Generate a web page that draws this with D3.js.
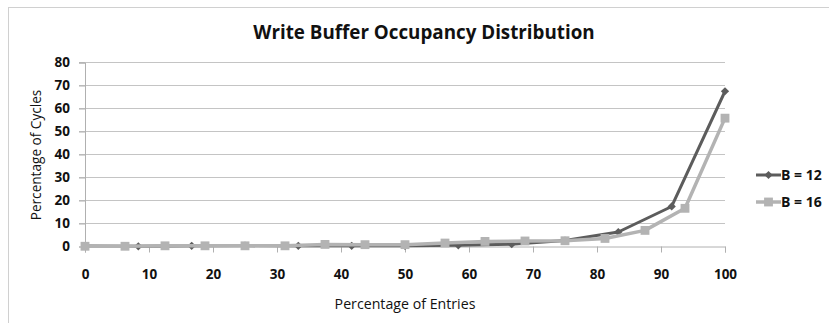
<!DOCTYPE html>
<html>
<head>
<meta charset="utf-8">
<script src="https://cdn.jsdelivr.net/npm/d3@7"></script>
<style>
  body { margin: 0; background: #fff; }
  svg { display: block; }
</style>
</head>
<body>
<svg id="chart"></svg>
<script>
// data
const xB12 = [0, 8.33, 16.67, 25, 33.33, 41.67, 50, 58.33, 66.67, 75, 83.33, 91.67, 100];
const yB12 = [0.2, 0.1, 0.3, 0.4, 0.3, 0.3, 0.3, 0.5, 1.0, 2.6, 6.3, 17.4, 67.5];
const xB16 = [0, 6.25, 12.5, 18.75, 25, 31.25, 37.5, 43.75, 50, 56.25, 62.5, 68.75, 75, 81.25, 87.5, 93.75, 100];
const yB16 = [0.1, 0.1, 0.3, 0.3, 0.3, 0.3, 0.9, 0.8, 0.8, 1.5, 2.2, 2.4, 2.5, 3.5, 7.0, 16.6, 55.8];
const seriesNames = ["B = 12", "B = 16"];
const xTicks = [0, 10, 20, 30, 40, 50, 60, 70, 80, 90, 100];
const yTicks = [0, 10, 20, 30, 40, 50, 60, 70, 80];

const W = 829, H = 323;
const margin = { top: 62.5, right: 104, bottom: 76.5, left: 85 },
  width = W - margin.left - margin.right,
  height = H - margin.top - margin.bottom;

const root = d3.select("#chart").attr("width", W).attr("height", H);

// chart area border
root.append("rect")
  .attr("x", 8.5).attr("y", 7.5)
  .attr("width", W).attr("height", H)
  .attr("fill", "none")
  .attr("stroke", "#d0d0d0");

const svg = root.append("g")
  .attr("transform", `translate(${margin.left},${margin.top})`);

const x = d3.scaleLinear().domain([0, 100]).range([0, width]);
const y = d3.scaleLinear().domain([0, 80]).range([height, 0]);

// gridlines
svg.append("g")
  .selectAll("line")
  .data(yTicks.filter((d) => d > 0))
  .join("line")
  .attr("x1", -6)
  .attr("x2", width)
  .attr("y1", (d) => y(d))
  .attr("y2", (d) => y(d))
  .attr("stroke", "#c4c4c4")
  .attr("stroke-width", 1);

// y axis
const yAxis = svg.append("g")
  .call(d3.axisLeft(y).tickValues(yTicks).tickSize(6).tickPadding(9));
yAxis.select(".domain").attr("stroke", "#b0b0b0");
yAxis.selectAll(".tick line").attr("stroke", "#b0b0b0");
yAxis.selectAll("text")
  .attr("font-family", "'Open Sans', sans-serif")
  .attr("font-weight", "bold")
  .attr("font-size", "13.5px")
  .attr("fill", "#111");

// x axis
const xAxis = svg.append("g")
  .attr("transform", `translate(0,${height})`)
  .call(d3.axisBottom(x).tickValues(xTicks).tickSize(6).tickPadding(17));
xAxis.select(".domain").attr("stroke", "#b0b0b0");
xAxis.selectAll(".tick line").attr("stroke", "#b0b0b0");
xAxis.selectAll("text")
  .attr("font-family", "'Open Sans', sans-serif")
  .attr("font-weight", "bold")
  .attr("font-size", "13.5px")
  .attr("fill", "#111");

// title
root.append("text")
  .attr("x", 424)
  .attr("y", 39)
  .attr("text-anchor", "middle")
  .attr("font-family", "'Open Sans', sans-serif")
  .attr("font-weight", "bold")
  .attr("font-size", "18.8px")
  .attr("fill", "#111")
  .text("Write Buffer Occupancy Distribution");

// axis titles
root.append("text")
  .attr("x", 405)
  .attr("y", 309)
  .attr("text-anchor", "middle")
  .attr("font-family", "'Open Sans', sans-serif")
  .attr("font-size", "14.2px")
  .attr("fill", "#111")
  .text("Percentage of Entries");

root.append("text")
  .attr("transform", "translate(41,155) rotate(-90)")
  .attr("text-anchor", "middle")
  .attr("font-family", "'Open Sans', sans-serif")
  .attr("font-size", "13.6px")
  .attr("fill", "#111")
  .text("Percentage of Cycles");

// series
const series = [
  { name: seriesNames[0], xs: xB12, ys: yB12, color: "#5c5c5c", width: 3, symbol: "diamond" },
  { name: seriesNames[1], xs: xB16, ys: yB16, color: "#b3b3b3", width: 3.5, symbol: "square" },
];

const line = d3.line()
  .x((d) => x(d[0]))
  .y((d) => y(d[1]));

function marker(sel, s) {
  if (s.symbol === "diamond") {
    sel.attr("d", d3.symbol(d3.symbolSquare, 34)())
      .attr("transform", (d) => `translate(${d[0]},${d[1]}) rotate(45)`);
  } else {
    sel.attr("d", d3.symbol(d3.symbolSquare, 78)())
      .attr("transform", (d) => `translate(${d[0]},${d[1]})`);
  }
  sel.attr("fill", s.color);
}

series.forEach((s) => {
  const pts = s.xs.map((v, i) => [v, s.ys[i]]);
  svg.append("path")
    .datum(pts)
    .attr("fill", "none")
    .attr("stroke", s.color)
    .attr("stroke-width", s.width)
    .attr("stroke-linejoin", "round")
    .attr("d", line);

  svg.append("g")
    .selectAll("path")
    .data(pts.map((p) => [x(p[0]), y(p[1])]))
    .join("path")
    .call(marker, s);
});

// legend
const legend = root.append("g").attr("transform", "translate(756,175)");
series.forEach((s, i) => {
  const row = legend.append("g").attr("transform", `translate(0,${i * 27})`);
  row.append("line")
    .attr("x1", 0).attr("x2", 25)
    .attr("y1", 0).attr("y2", 0)
    .attr("stroke", s.color)
    .attr("stroke-width", s.width);
  row.append("path")
    .datum([12.5, 0])
    .call(marker, s);
  row.append("text")
    .attr("x", 25)
    .attr("y", 5)
    .attr("font-family", "'Open Sans', sans-serif")
    .attr("font-weight", "bold")
    .attr("font-size", "14px")
    .attr("fill", "#111")
    .text(s.name);
});
</script>
</body>
</html>
